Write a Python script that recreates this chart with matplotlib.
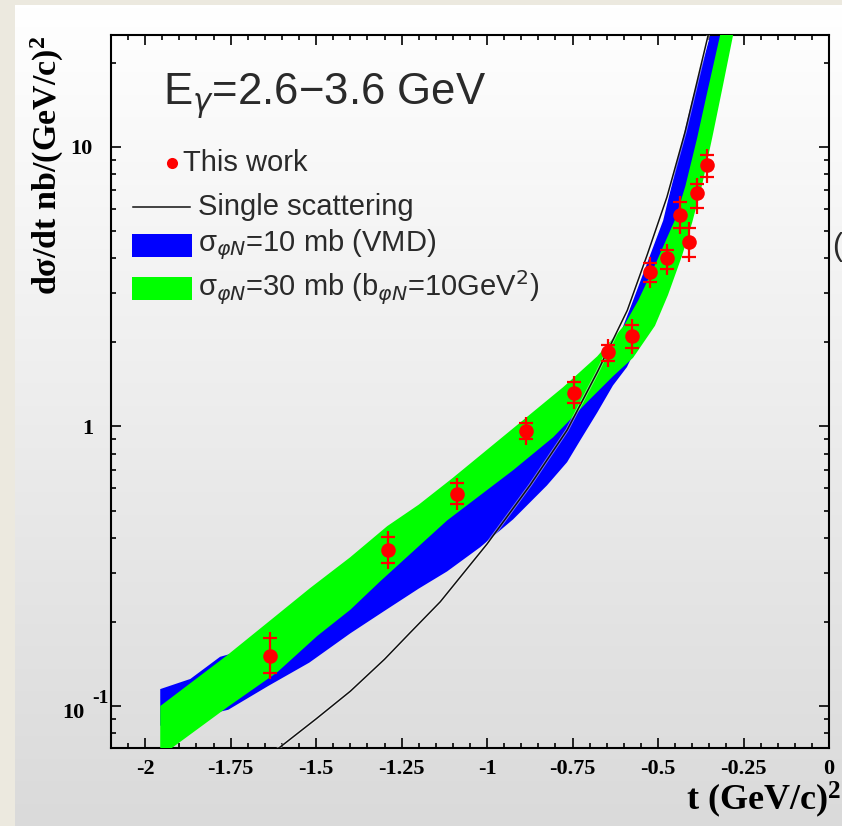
import numpy as np
import matplotlib
matplotlib.use("Agg")
import matplotlib.pyplot as plt
import matplotlib.patheffects as pe
from matplotlib.colors import LinearSegmentedColormap
from matplotlib.patches import Rectangle
from matplotlib.lines import Line2D
from matplotlib.ticker import FixedLocator, MultipleLocator, LogLocator, NullFormatter

# ---------------------------------------------------------------
# data: phi photoproduction, E_gamma = 2.6-3.6 GeV
# ---------------------------------------------------------------
t_data = [-1.634, -1.289, -1.088, -0.886, -0.746, -0.646, -0.576,
          -0.525, -0.474, -0.436, -0.409, -0.385, -0.358]
xs_data = [0.151, 0.361, 0.571, 0.960, 1.32, 1.84, 2.11,
           3.58, 3.99, 5.71, 4.58, 6.81, 8.61]
xs_hi = [0.175, 0.402, 0.625, 1.026, 1.44, 1.95, 2.31,
         3.85, 4.29, 6.37, 5.11, 7.35, 9.35]
xs_lo = [0.131, 0.324, 0.526, 0.900, 1.21, 1.71, 1.90,
         3.28, 3.66, 5.13, 4.05, 6.04, 7.81]

# single scattering curve
t_single = [-1.65, -1.605, -1.50, -1.40, -1.30, -1.225, -1.137, -1.0, -0.874,
            -0.766, -0.678, -0.59, -0.532, -0.474, -0.421, -0.354, -0.33]
xs_single = [0.0647, 0.0714, 0.090, 0.113, 0.147, 0.183, 0.236, 0.380, 0.617,
             0.97, 1.56, 2.60, 4.10, 6.61, 11.3, 24.9, 32.8]

# sigma_phiN = 10 mb (VMD) band: upper and lower edges
t_vmd_up = [-1.956, -1.868, -1.781, -1.70, -1.50, -1.20, -0.90, -0.70,
            -0.62, -0.573, -0.529, -0.485, -0.436, -0.401, -0.348, -0.33]
xs_vmd_up = [0.115, 0.125, 0.150, 0.16, 0.22, 0.42, 0.80, 1.50,
             2.0, 2.82, 3.92, 5.45, 9.68, 14.6, 24.9, 30.0]
t_vmd_lo = [-1.956, -1.757, -1.64, -1.52, -1.40, -1.30, -1.20, -1.117,
            -1.02, -0.924, -0.825, -0.766, -0.728, -0.678, -0.632, -0.591,
            -0.56, -0.50, -0.45, -0.40, -0.35, -0.31, -0.29]
xs_vmd_lo = [0.085, 0.097, 0.118, 0.143, 0.182, 0.219, 0.263, 0.303,
             0.370, 0.465, 0.615, 0.745, 0.890, 1.12, 1.40, 1.63,
             1.95, 3.0, 4.3, 6.8, 11.0, 19.0, 28.0]

# sigma_phiN = 30 mb band
t_30_up = [-1.956, -1.760, -1.614, -1.518, -1.401, -1.292, -1.20, -1.10,
           -0.924, -0.778, -0.678, -0.60, -0.558, -0.503, -0.45, -0.42,
           -0.386, -0.357, -0.319, -0.30]
xs_30_up = [0.100, 0.152, 0.212, 0.264, 0.340, 0.440, 0.525, 0.655,
            0.984, 1.38, 1.78, 2.29, 2.82, 3.92, 5.50, 7.24,
            10.7, 15.5, 24.9, 31.6]
t_30_lo = [-1.956, -1.918, -1.760, -1.614, -1.497, -1.40, -1.313, -1.117,
           -0.924, -0.807, -0.708, -0.632, -0.573, -0.509, -0.471, -0.43,
           -0.40, -0.37, -0.34, -0.31, -0.281, -0.27]
xs_30_lo = [0.066, 0.0714, 0.099, 0.132, 0.178, 0.221, 0.279, 0.461,
            0.697, 0.914, 1.22, 1.51, 1.76, 2.29, 2.95, 4.07,
            5.37, 7.41, 11.0, 16.6, 24.9, 31.6]

xtick_vals = [-2, -1.75, -1.5, -1.25, -1, -0.75, -0.5, -0.25, 0]
xtick_labels = ['-2', '-1.75', '-1.5', '-1.25', '-1', '-0.75', '-0.5', '-0.25', '0']
ytick_vals = [0.1, 1, 10]
ytick_labels = ['', '1', '10']

# ---------------------------------------------------------------
plt.rcParams['mathtext.fontset'] = 'custom'
plt.rcParams['mathtext.rm'] = 'Liberation Serif:bold'
plt.rcParams['mathtext.bf'] = 'Liberation Serif:bold'
plt.rcParams['mathtext.it'] = 'Liberation Serif:bold'
plt.rcParams['axes.unicode_minus'] = False

W, H = 842, 826
fig = plt.figure(figsize=(W / 100, H / 100), dpi=100)
fig.patch.set_facecolor('#ECE9DF')

# canvas backdrop, white fading to grey
bg = fig.add_axes([15 / W, 0, 1 - 15 / W, 1 - 5 / H])
grad = np.linspace(1, 0, 256).reshape(-1, 1)
bg.imshow(grad, aspect='auto', extent=[0, 1, 0, 1],
          cmap=LinearSegmentedColormap.from_list('bg', ['#DADADA', '#FFFFFF']))
bg.axis('off')

L, R, T, B = 111, 829, 35, 748
ax = fig.add_axes([L / W, 1 - B / H, (R - L) / W, (B - T) / H])
ax.set_facecolor('none')
ax.set_yscale('log')
ax.set_xlim(-2.1, 0)
ax.set_ylim(0.0708, 25.1)

# model bands
ax.fill(np.r_[t_vmd_up, t_vmd_lo[::-1]], np.r_[xs_vmd_up, xs_vmd_lo[::-1]],
        color='#0000FF', lw=0, zorder=2)
ax.fill(np.r_[t_30_up, t_30_lo[::-1]], np.r_[xs_30_up, xs_30_lo[::-1]],
        color='#00FF00', lw=0, zorder=3)

ax.plot(t_single, xs_single, color='#111111', lw=1.1, zorder=4,
        path_effects=[pe.Stroke(linewidth=2.4, foreground='#FFFFFF', alpha=0.45), pe.Normal()])

# data with error crosses
lo = np.array(xs_lo)
hi = np.array(xs_hi)
ax.vlines(t_data, lo / 1.05, hi * 1.05, color='#FF0000', lw=1.6, zorder=5)
ax.plot(t_data, lo, ls='none', marker='_', ms=10, mew=1.6, color='#FF0000', zorder=5)
ax.plot(t_data, hi, ls='none', marker='_', ms=10, mew=1.6, color='#FF0000', zorder=5)
ax.plot(t_data, xs_data, ls='none', marker='o', ms=10.5, color='#FF0000', mec='none', zorder=6)

# axes styling
for s in ax.spines.values():
    s.set_linewidth(1.5)
ax.xaxis.set_major_locator(FixedLocator(xtick_vals))
ax.set_xticklabels(xtick_labels)
ax.xaxis.set_minor_locator(MultipleLocator(0.05))
ax.yaxis.set_major_locator(FixedLocator(ytick_vals))
ax.set_yticklabels(ytick_labels)
ax.yaxis.set_minor_locator(LogLocator(base=10, subs=np.arange(2, 10)))
ax.yaxis.set_minor_formatter(NullFormatter())
ax.tick_params(which='both', direction='in', top=True, right=True, width=1.2)
ax.tick_params(which='major', length=7.5)
ax.tick_params(which='minor', length=3.8)
ax.tick_params(axis='x', pad=8)
ax.tick_params(axis='y', pad=13)
for lab in ax.get_xticklabels() + ax.get_yticklabels():
    lab.set_fontfamily('Liberation Serif')
    lab.set_fontweight('bold')
    lab.set_fontsize(16)

# 10^-1 label
serif_b = dict(family='Liberation Serif', weight='bold', color='black')
ax.annotate('10', xy=(0, 0.1), xycoords=('axes fraction', 'data'),
            xytext=(-49, -7), textcoords='offset pixels',
            ha='left', va='center', size=16, **serif_b)
ax.annotate('-1', xy=(0, 0.1), xycoords=('axes fraction', 'data'),
            xytext=(-19, 8), textcoords='offset pixels',
            ha='left', va='center', size=14, **serif_b)


def fp(x, y):
    return x / W, 1 - y / H


# axis titles
fig.text(*fp(47, 36), 'd\u03c3/dt nb/(GeV/c)$^{2}$', rotation=90,
         ha='center', va='top', size=24.5, **serif_b)
fig.text(*fp(841, 810), 't (GeV/c)$^{2}$', ha='right', va='baseline',
         size=26, **serif_b)

# energy range and legend
sans = dict(family='Liberation Sans', color='#2A2A2A')
fig.text(*fp(163, 105), 'E$_{\\gamma}$=2.6\u22123.6 GeV', ha='left', va='baseline',
         size=31.5, math_fontfamily='dejavusans', **sans)

fig.add_artist(Line2D([172 / W], [1 - 163 / H], ls='none', marker='o', ms=8,
                      color='#FF0000', mec='none', transform=fig.transFigure))
fig.text(*fp(183, 163), 'This work', ha='left', va='center', size=21, **sans)

fig.add_artist(Line2D([133 / W, 190 / W], [1 - 207 / H] * 2, color='#111111', lw=1.1,
                      transform=fig.transFigure))
fig.text(*fp(198, 207), 'Single scattering', ha='left', va='center', size=21, **sans)

fig.add_artist(Rectangle(fp(132, 257), 60 / W, 23 / H, color='#0000FF', lw=0,
                         transform=fig.transFigure))
fig.text(*fp(198, 245), '\u03c3$_{\\varphi N}$=10 mb (VMD)', ha='left', va='center',
         size=21, math_fontfamily='dejavusans', **sans)

fig.add_artist(Rectangle(fp(132, 300), 60 / W, 23 / H, color='#00FF00', lw=0,
                         transform=fig.transFigure))
fig.text(*fp(198, 288), '\u03c3$_{\\varphi N}$=30 mb (b$_{\\varphi N}$=10GeV$^{2}$)',
         ha='left', va='center', size=21, math_fontfamily='dejavusans', **sans)

fig.text(*fp(832, 247), '(', ha='left', va='center', size=22, **sans)

fig.savefig('out.png', dpi=100, facecolor=fig.get_facecolor())
